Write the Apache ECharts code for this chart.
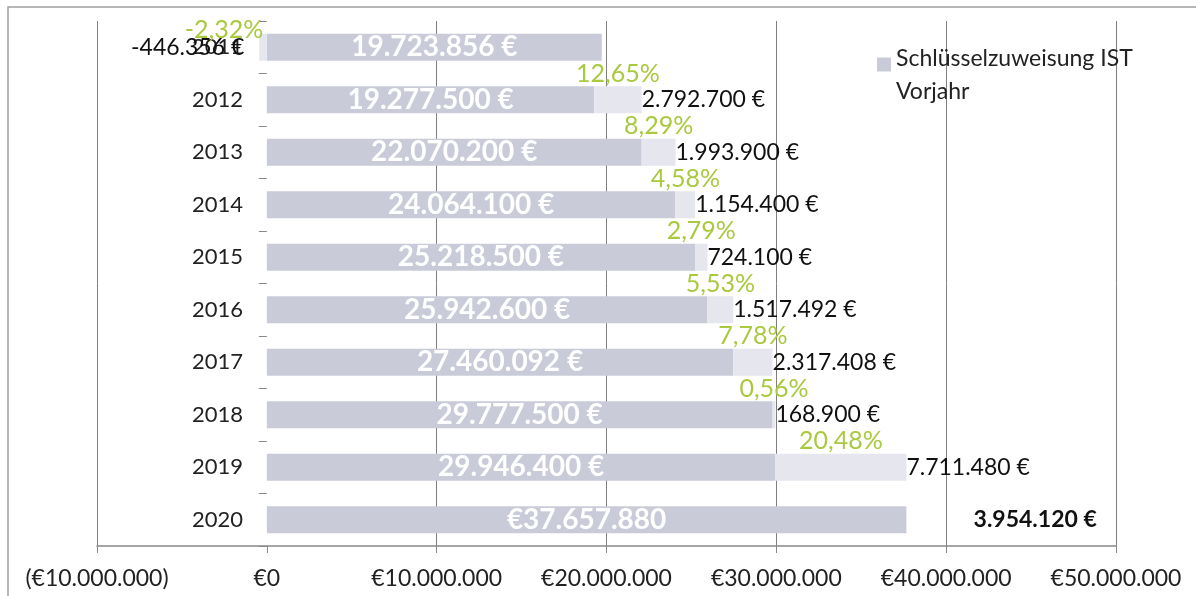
<!DOCTYPE html>
<html>
<head>
<meta charset="utf-8">
<script src="https://cdn.jsdelivr.net/npm/echarts@6/dist/echarts.min.js"></script>
<style>
  html, body { margin: 0; padding: 0; background: #fff; }
  #chart { width: 1196px; height: 596px; }
</style>
</head>
<body>
<div id="chart"></div>
<script>
// Schlüsselzuweisung: Vorjahr + Veränderung zum Vorjahr
var years = ['2011', '2012', '2013', '2014', '2015', '2016', '2017', '2018', '2019', '2020']
var vorjahr = [19723856, 19277500, 22070200, 24064100, 25218500, 25942600, 27460092, 29777500, 29946400, 37657880]
var veraenderung = [-446356, 2792700, 1993900, 1154400, 724100, 1517492, 2317408, 168900, 7711480, 3954120]
var prozent = ['-2,32%', '12,65%', '8,29%', '4,58%', '2,79%', '5,53%', '7,78%', '0,56%', '20,48%', '']

var FONT = 'Lato, "Open Sans", sans-serif'
var BASE = '#c9ccd8'
var INC = '#e5e6ee'
var GREEN = '#a9c93f'
var GRID = '#7f7f7f'
var last = years.length - 1

function fmt(v) {
  return String(Math.abs(v)).replace(/\B(?=(\d{3})+(?!\d))/g, '.')
}

var changeData = veraenderung.map(function (v, i) {
  var item = { value: v }
  if (i === 0) {
    // negativer Wert: Beschriftung links vom Balken
    item.label = { position: 'left', distance: 15 }
  }
  if (i === last) {
    item.itemStyle = { color: 'rgba(0,0,0,0)' }
    item.label = { fontWeight: 'bold' }
  }
  return item
})

var pctData = veraenderung.map(function (v, i) {
  var item = { value: v }
  if (i === 0) {
    item.label = { position: 'left', distance: -4, offset: [0, -17] }
  }
  return item
})

var chart = echarts.init(document.getElementById('chart'))

chart.setOption({
  animation: false,
  textStyle: { fontFamily: FONT },
  graphic: [{
    type: 'polyline',
    shape: { points: [[8, 600], [8, 7], [1196, 7]] },
    style: { stroke: '#a0a0a0', lineWidth: 1.5, fill: null },
    silent: true
  }],
  grid: {
    left: 97,
    right: 80,
    top: 21,
    bottom: 50
  },
  legend: {
    data: ['Schlüsselzuweisung IST Vorjahr'],
    left: 877,
    top: 20,
    padding: 0,
    itemWidth: 14,
    itemHeight: 14,
    itemGap: 10,
    icon: 'rect',
    formatter: function (name) {
      return '{s|}\n{t|' + name.replace(' Vorjahr', '}\n{t|Vorjahr}')
    },
    textStyle: {
      fontFamily: FONT,
      fontSize: 23,
      color: '#222',
      rich: {
        s: { height: 21, lineHeight: 21 },
        t: { fontFamily: FONT, fontSize: 23, color: '#222', lineHeight: 33 }
      }
    }
  },
  xAxis: {
    type: 'value',
    min: -10000000,
    max: 50000000,
    interval: 10000000,
    axisLine: { show: true, lineStyle: { color: '#888', width: 1.5 } },
    axisTick: { show: true, length: 7, lineStyle: { color: '#888' } },
    axisLabel: {
      margin: 21,
      fontFamily: FONT,
      fontSize: 23,
      color: '#222',
      formatter: function (v) {
        return v < 0 ? '(€' + fmt(v) + ')' : '€' + fmt(v)
      }
    },
    splitLine: {
      show: true,
      lineStyle: { color: [GRID, 'rgba(0,0,0,0)', GRID, GRID, GRID, GRID, GRID], width: 1 }
    }
  },
  yAxis: {
    type: 'category',
    inverse: true,
    data: years,
    axisLine: { show: true, onZero: true, lineStyle: { opacity: 0 } },
    axisTick: { show: true, length: 8, lineStyle: { color: '#888' } },
    axisLabel: {
      // Beschriftung sitzt am Gitterrand, daher negativer Abstand bis vor die Nulllinie
      margin: -146,
      fontFamily: FONT,
      fontSize: 22,
      color: '#222'
    }
  },
  series: [
    {
      name: 'Schlüsselzuweisung IST Vorjahr',
      type: 'bar',
      stack: 'main',
      barWidth: 27,
      barGap: '-100%',
      itemStyle: { color: BASE },
      label: {
        show: true,
        position: 'inside',
        color: '#fff',
        fontFamily: FONT,
        fontSize: 28,
        fontWeight: 'bold',
        formatter: function (p) {
          return p.dataIndex === last ? '€' + fmt(p.value) : fmt(p.value) + ' €'
        }
      },
      data: vorjahr
    },
    {
      name: 'Veränderung',
      type: 'bar',
      stack: 'main',
      barWidth: 27,
      barGap: '-100%',
      itemStyle: { color: INC },
      label: {
        show: true,
        position: 'right',
        distance: 0,
        color: '#111',
        fontFamily: FONT,
        fontSize: 23,
        formatter: function (p) {
          return (p.value < 0 ? '-' : '') + fmt(p.value) + ' €'
        }
      },
      data: changeData
    },
    // unsichtbarer Stapel nur für die Prozent-Beschriftung
    {
      name: 'pct-basis',
      type: 'bar',
      stack: 'pct',
      barWidth: 27,
      barGap: '-100%',
      silent: true,
      itemStyle: { color: 'rgba(0,0,0,0)' },
      data: vorjahr
    },
    {
      name: 'pct',
      type: 'bar',
      stack: 'pct',
      barWidth: 27,
      barGap: '-100%',
      silent: true,
      itemStyle: { color: 'rgba(0,0,0,0)' },
      label: {
        show: true,
        position: 'top',
        distance: 0,
        color: GREEN,
        fontFamily: FONT,
        fontSize: 25,
        formatter: function (p) {
          return prozent[p.dataIndex]
        }
      },
      data: pctData
    }
  ]
})
</script>
</body>
</html>
